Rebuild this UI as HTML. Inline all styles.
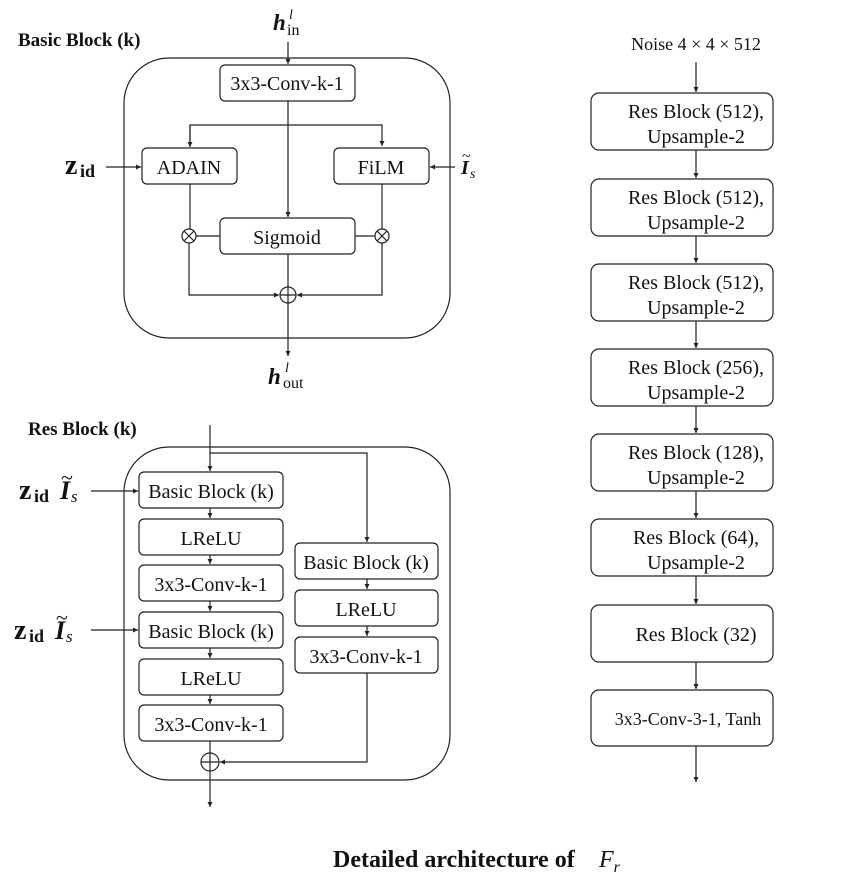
<!DOCTYPE html>
<html><head><meta charset="utf-8"><style>
html,body{margin:0;padding:0;background:#fff;}
svg{display:block;}
text{font-family:"Liberation Serif",serif;fill:#111;}
</style></head><body>
<svg width="856" height="882" viewBox="0 0 856 882" xmlns="http://www.w3.org/2000/svg">
<defs>
<marker id="a" markerWidth="6" markerHeight="6" refX="5" refY="3" orient="auto" markerUnits="userSpaceOnUse">
<path d="M0,0.5 L5,3 L0,5.5 Z" fill="#222"/></marker>
</defs>
<g stroke="#222" stroke-width="1.2" fill="none">
<rect x="124" y="58" width="326" height="280" rx="45"/>
<rect x="220" y="65" width="135" height="36" rx="5"/>
<rect x="142" y="148" width="95" height="36" rx="5"/>
<rect x="334" y="148" width="95" height="36" rx="5"/>
<rect x="220" y="218" width="135" height="36" rx="5"/>
<line x1="288" y1="42" x2="288" y2="64" marker-end="url(#a)"/>
<line x1="288" y1="101" x2="288" y2="217" marker-end="url(#a)"/>
<polyline points="190,146 190,125 382,125 382,146" marker-end="url(#a)"/>
<line x1="190" y1="125" x2="190" y2="147" marker-end="url(#a)"/>
<line x1="106" y1="167" x2="141" y2="167" marker-end="url(#a)"/>
<line x1="455" y1="167" x2="430" y2="167" marker-end="url(#a)"/>
<circle cx="189" cy="236" r="7"/>
<path d="M184,231 L194,241 M194,231 L184,241"/>
<circle cx="382" cy="236" r="7"/>
<path d="M377,231 L387,241 M387,231 L377,241"/>
<line x1="190" y1="184" x2="190" y2="229"/>
<line x1="382" y1="184" x2="382" y2="229"/>
<line x1="196" y1="236" x2="220" y2="236"/>
<line x1="355" y1="236" x2="375" y2="236"/>
<polyline points="189,243 189,295 279,295" marker-end="url(#a)"/>
<polyline points="382,243 382,295 297,295" marker-end="url(#a)"/>
<circle cx="288" cy="295" r="8"/>
<path d="M280,295 L296,295 M288,287 L288,303"/>
<line x1="288" y1="254" x2="288" y2="287"/>
<line x1="288" y1="303" x2="288" y2="356" marker-end="url(#a)"/>
<rect x="124" y="447" width="326" height="333" rx="45"/>
<rect x="139" y="472" width="144" height="36" rx="5"/>
<rect x="139" y="519" width="144" height="36" rx="5"/>
<rect x="139" y="565" width="144" height="36" rx="5"/>
<rect x="139" y="612" width="144" height="36" rx="5"/>
<rect x="139" y="659" width="144" height="36" rx="5"/>
<rect x="139" y="705" width="144" height="36" rx="5"/>
<rect x="295" y="543" width="143" height="36" rx="5"/>
<rect x="295" y="590" width="143" height="36" rx="5"/>
<rect x="295" y="637" width="143" height="36" rx="5"/>
<line x1="210" y1="425" x2="210" y2="471" marker-end="url(#a)"/>
<polyline points="210,453 367,453 367,542" marker-end="url(#a)"/>
<line x1="210" y1="508" x2="210" y2="518" marker-end="url(#a)"/>
<line x1="210" y1="555" x2="210" y2="564" marker-end="url(#a)"/>
<line x1="210" y1="601" x2="210" y2="611" marker-end="url(#a)"/>
<line x1="210" y1="648" x2="210" y2="658" marker-end="url(#a)"/>
<line x1="210" y1="695" x2="210" y2="704" marker-end="url(#a)"/>
<line x1="367" y1="579" x2="367" y2="589" marker-end="url(#a)"/>
<line x1="367" y1="626" x2="367" y2="636" marker-end="url(#a)"/>
<polyline points="367,673 367,762 220,762" marker-end="url(#a)"/>
<circle cx="210" cy="762" r="9"/>
<path d="M201,762 L219,762 M210,753 L210,771"/>
<line x1="210" y1="741" x2="210" y2="753"/>
<line x1="210" y1="771" x2="210" y2="807" marker-end="url(#a)"/>
<line x1="91" y1="491" x2="138" y2="491" marker-end="url(#a)"/>
<line x1="91" y1="630" x2="138" y2="630" marker-end="url(#a)"/>
<rect x="591" y="93" width="182" height="57" rx="8"/>
<rect x="591" y="179" width="182" height="57" rx="8"/>
<rect x="591" y="264" width="182" height="57" rx="8"/>
<rect x="591" y="349" width="182" height="57" rx="8"/>
<rect x="591" y="434" width="182" height="57" rx="8"/>
<rect x="591" y="519" width="182" height="57" rx="8"/>
<rect x="591" y="605" width="182" height="57" rx="8"/>
<rect x="591" y="690" width="182" height="56" rx="8"/>
<line x1="696" y1="62" x2="696" y2="92" marker-end="url(#a)"/>
<line x1="696" y1="150" x2="696" y2="178" marker-end="url(#a)"/>
<line x1="696" y1="236" x2="696" y2="263" marker-end="url(#a)"/>
<line x1="696" y1="321" x2="696" y2="348" marker-end="url(#a)"/>
<line x1="696" y1="406" x2="696" y2="433" marker-end="url(#a)"/>
<line x1="696" y1="491" x2="696" y2="518" marker-end="url(#a)"/>
<line x1="696" y1="576" x2="696" y2="604" marker-end="url(#a)"/>
<line x1="696" y1="662" x2="696" y2="689" marker-end="url(#a)"/>
<line x1="696" y1="746" x2="696" y2="782" marker-end="url(#a)"/>
</g>
<g font-size="20" text-anchor="middle">
<text x="287" y="90">3x3-Conv-k-1</text>
<text x="189" y="174">ADAIN</text>
<text x="381" y="174">FiLM</text>
<text x="287" y="244">Sigmoid</text>
<text x="211" y="498">Basic Block (k)</text>
<text x="211" y="545">LReLU</text>
<text x="211" y="591">3x3-Conv-k-1</text>
<text x="211" y="638">Basic Block (k)</text>
<text x="211" y="685">LReLU</text>
<text x="211" y="731">3x3-Conv-k-1</text>
<text x="366" y="569">Basic Block (k)</text>
<text x="366" y="616">LReLU</text>
<text x="366" y="663">3x3-Conv-k-1</text>
<text x="696" y="118">Res Block (512),</text><text x="696" y="143">Upsample-2</text>
<text x="696" y="204">Res Block (512),</text><text x="696" y="229">Upsample-2</text>
<text x="696" y="289">Res Block (512),</text><text x="696" y="314">Upsample-2</text>
<text x="696" y="374">Res Block (256),</text><text x="696" y="399">Upsample-2</text>
<text x="696" y="459">Res Block (128),</text><text x="696" y="484">Upsample-2</text>
<text x="696" y="544">Res Block (64),</text><text x="696" y="569">Upsample-2</text>
<text x="696" y="641">Res Block (32)</text>
<text x="688" y="725" font-size="18">3x3-Conv-3-1, Tanh</text>
<text x="696" y="50" font-size="18">Noise 4 × 4 × 512</text>
</g>
<g font-weight="bold">
<text x="18" y="46" font-size="19">Basic Block (k)</text>
<text x="28" y="435" font-size="19">Res Block (k)</text>
<text x="333" y="867" font-size="24">Detailed architecture of</text>
</g>
<text x="599" y="867" font-size="24" font-style="italic">F<tspan font-size="16" dy="5">r</tspan></text>
<text x="273" y="30" font-size="23" font-weight="bold" font-style="italic">h</text>
<text x="289" y="19" font-size="14" font-style="italic">l</text>
<text x="287" y="35" font-size="16">in</text>
<text x="268" y="384" font-size="23" font-weight="bold" font-style="italic">h</text>
<text x="285" y="372" font-size="14" font-style="italic">l</text>
<text x="283" y="388" font-size="16">out</text>
<text x="65" y="174" font-size="28" font-weight="bold">z</text><text x="80" y="177" font-size="18" font-weight="bold">id</text>
<text x="461" y="174" font-size="20" font-weight="bold" font-style="italic">I</text><text x="470" y="178" font-size="14" font-style="italic">s</text><text x="462" y="161" font-size="16">~</text>
<text x="19" y="499" font-size="28" font-weight="bold">z</text><text x="34" y="502" font-size="18" font-weight="bold">id</text>
<text x="60" y="499" font-size="26" font-weight="bold" font-style="italic">I</text><text x="71" y="502" font-size="17" font-style="italic">s</text><text x="61" y="485" font-size="22">~</text>
<text x="14" y="639" font-size="28" font-weight="bold">z</text><text x="29" y="642" font-size="18" font-weight="bold">id</text>
<text x="55" y="639" font-size="26" font-weight="bold" font-style="italic">I</text><text x="66" y="642" font-size="17" font-style="italic">s</text><text x="56" y="625" font-size="22">~</text>
</svg>
</body></html>
